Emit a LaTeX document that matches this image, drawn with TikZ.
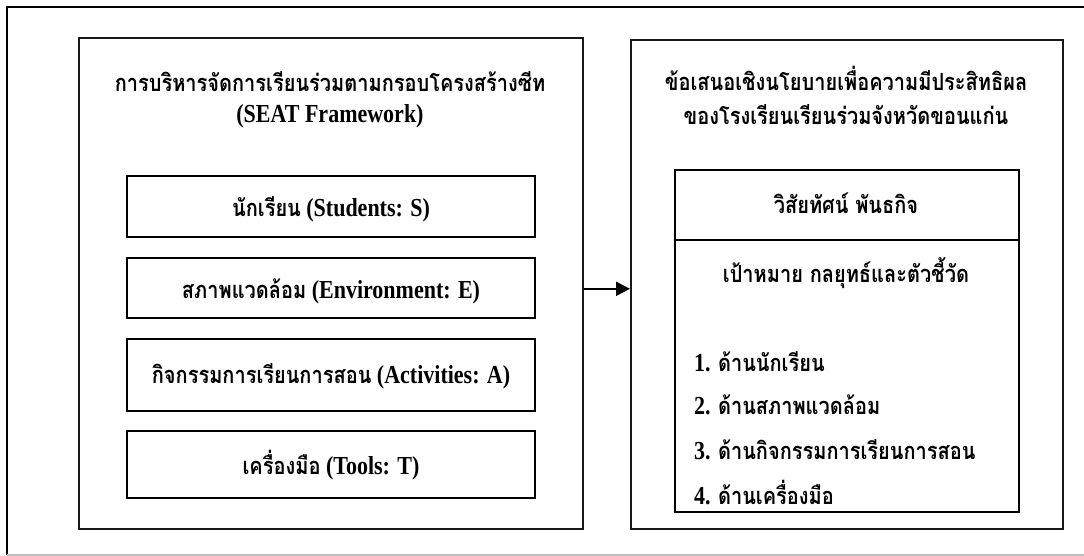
\documentclass[tikz,border=0pt]{standalone}
\usepackage{fontspec}
\usepackage{graphicx}
\setmainfont{Liberation Serif}
\newfontfamily\thaifont[Script=Thai]{Loma}
\usetikzlibrary{arrows.meta}
\newcommand{\thx}[1]{{\thaifont\fontsize{20}{22}\selectfont #1}}
\newcommand{\lab}[1]{\scalebox{1}[1.18]{#1}}
\begin{document}
\begin{tikzpicture}[x=1pt,y=-1pt,
  frame/.style={draw=black!90, line width=1.6pt, inner sep=0pt, anchor=north west},
  inbox/.style={draw=black, line width=2pt, inner sep=0pt, anchor=north west},
  lbl/.style={font=\bfseries\fontsize{22}{24}\selectfont, inner sep=0pt},
  item/.style={lbl, anchor=west}]
\useasboundingbox (0,0) rectangle (1084,556);
\draw[line width=2pt] (1084,7) -- (7,7) -- (7,555);
\draw[black!25, line width=1.6pt] (7,555) -- (1084,555);
% left block
\node[frame, minimum width=504pt, minimum height=491pt] (L) at (78,37) {};
\node[lbl] (lt1) at (330,82) {\lab{\thx{การบริหารจัดการเรียนร่วมตามกรอบโครงสร้างซีท}}};
\node[lbl] (lt2) at (330,116) {\lab{(SEAT Framework)}};
\node[inbox, minimum width=408pt, minimum height=61pt] (s) at (126,175) {};
\node[inbox, minimum width=408pt, minimum height=60pt] (e) at (126,257) {};
\node[inbox, minimum width=408pt, minimum height=72pt] (a) at (126,338) {};
\node[inbox, minimum width=408pt, minimum height=67pt] (t) at (126,430) {};
\node[lbl] (st) at ([yshift=-3pt]s.center) {\lab{\thx{นักเรียน} (Students: S)}};
\node[lbl] (et) at ([yshift=-3pt]e.center) {\lab{\thx{สภาพแวดล้อม} (Environment: E)}};
\node[lbl] (at) at ([yshift=-1pt]a.center) {\lab{\thx{กิจกรรมการเรียนการสอน} (Activities: A)}};
\node[lbl] (tt) at ([yshift=-1pt]t.center) {\lab{\thx{เครื่องมือ} (Tools: T)}};
% right block
\node[frame, minimum width=432pt, minimum height=489pt] (R) at (630,39) {};
\node[lbl] (rt1) at (846,78) {\lab{\thx{ข้อเสนอเชิงนโยบายเพื่อความมีประสิทธิผล}}};
\node[lbl] (rt2) at (846,115) {\lab{\thx{ของโรงเรียนเรียนร่วมจังหวัดขอนแก่น}}};
\node[inbox, minimum width=344pt, minimum height=70pt] (v) at (674,169) {};
\node[inbox, minimum width=344pt, minimum height=272pt] (g) at (674,239) {};
\node[lbl] (vt) at (846,203) {\lab{\thx{วิสัยทัศน์ พันธกิจ}}};
\node[lbl] (gt) at (846,273) {\lab{\thx{เป้าหมาย กลยุทธ์และตัวชี้วัด}}};
\node[item] (i1) at (694,362) {\lab{1. \thx{ด้านนักเรียน}}};
\node[item] (i2) at (694,405) {\lab{2. \thx{ด้านสภาพแวดล้อม}}};
\node[item] (i3) at (694,450) {\lab{3. \thx{ด้านกิจกรรมการเรียนการสอน}}};
\node[item] (i4) at (694,493) {\lab{4. \thx{ด้านเครื่องมือ}}};
% arrow
\draw[line width=2pt, -{Triangle[length=14pt,width=14pt]}] ([yshift=-5.5pt]L.east) -- ([yshift=-4.5pt]R.west);
\end{tikzpicture}
\end{document}
